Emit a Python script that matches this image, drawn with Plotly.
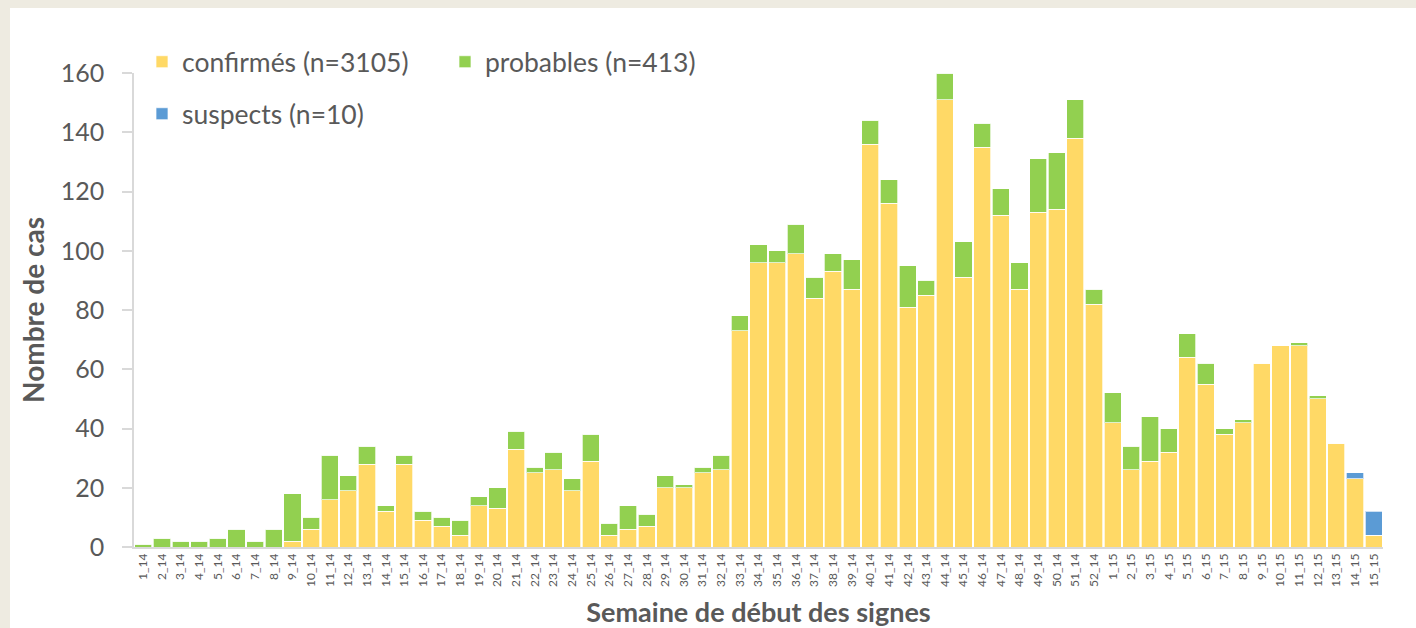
import plotly.graph_objects as go

weeks = [f"{i}_14" for i in range(1, 53)] + [f"{i}_15" for i in range(1, 16)]

confirmes = [0, 0, 0, 0, 0, 0, 0, 0, 2, 6,
             16, 19, 28, 12, 28, 9, 7, 4, 14, 13,
             33, 25, 26, 19, 29, 4, 6, 7, 20, 20,
             25, 26, 73, 96, 96, 99, 84, 93, 87, 136,
             116, 81, 85, 151, 91, 135, 112, 87, 113, 114,
             138, 82,
             42, 26, 29, 32, 64, 55, 38, 42, 62, 68,
             68, 50, 35, 23, 4]

probables = [1, 3, 2, 2, 3, 6, 2, 6, 16, 4,
             15, 5, 6, 2, 3, 3, 3, 5, 3, 7,
             6, 2, 6, 4, 9, 4, 8, 4, 4, 1,
             2, 5, 5, 6, 4, 10, 7, 6, 10, 8,
             8, 14, 5, 9, 12, 8, 9, 9, 18, 19,
             13, 5,
             10, 8, 15, 8, 8, 7, 2, 1, 0, 0,
             1, 1, 0, 0, 0]

suspects = [0] * 65 + [2, 8]

series_names = ["confirmés (n=3105)", "probables (n=413)", "suspects (n=10)"]
colors = ["#FFD966", "#92D050", "#5B9BD5"]

W, H = 1416, 628
L, R, T, B = 134, 33, 73, 81
pw = W - L - R
ph = H - T - B

fig = go.Figure()
for name, vals, col, lg in zip(series_names, [confirmes, probables, suspects], colors,
                               ["legend", "legend", "legend2"]):
    fig.add_trace(go.Bar(
        x=weeks, y=vals, name=name,
        marker=dict(color=col, line=dict(color="rgba(255,255,255,0.7)", width=1)),
        legend=lg,
    ))

def px_x(p):
    return (p - L) / pw

def px_y(p):
    return (H - B - p) / ph

fig.update_layout(
    width=W, height=H,
    margin=dict(l=L, r=R, t=T, b=B, pad=0, autoexpand=False),
    barmode="stack",
    bargap=0.08,
    paper_bgcolor="#EEEBE1",
    plot_bgcolor="white",
    font=dict(family="Lato, sans-serif", color="#595959"),
    showlegend=True,
    legend=dict(
        orientation="h", xref="container", yref="container",
        x=142 / W, y=1 - 62 / H, xanchor="left", yanchor="middle",
        font=dict(size=26.5, color="#595959"), entrywidth=258,
        bgcolor="rgba(0,0,0,0)", traceorder="normal",
    ),
    legend2=dict(
        orientation="h", xref="container", yref="container",
        x=142 / W, y=1 - 114 / H, xanchor="left", yanchor="middle",
        font=dict(size=26.5, color="#595959"),
        bgcolor="rgba(0,0,0,0)",
    ),
    xaxis=dict(
        type="category", tickangle=-90,
        tickfont=dict(size=12, color="#595959"),
        showline=True, linecolor="#D9D9D9", linewidth=1.5,
        showgrid=False, ticks="",
        title=dict(text="<b>Semaine de début des signes</b>",
                   font=dict(size=27, color="#595959"), standoff=17),
    ),
    yaxis=dict(
        range=[0, 160], tickvals=[0, 20, 40, 60, 80, 100, 120, 140, 160],
        tickfont=dict(size=25, color="#595959"),
        showline=True, linecolor="#D9D9D9", linewidth=1.5,
        ticks="outside", ticklen=10, tickcolor="#D9D9D9", tickwidth=1.5,
        ticklabelstandoff=13,
        showgrid=False, zeroline=False,
        title=dict(text="<b>Nombre de cas</b>",
                   font=dict(size=28, color="#595959"), standoff=8),
    ),
    shapes=[dict(
        type="rect", xref="paper", yref="paper", layer="below",
        x0=px_x(10), x1=px_x(W + 5), y0=px_y(H + 5), y1=px_y(8),
        fillcolor="white", line=dict(width=0),
    )],
)

fig.write_html("out.html", config={"displayModeBar": False},
               post_script="document.body.style.margin='0';document.body.style.overflow='hidden';")
